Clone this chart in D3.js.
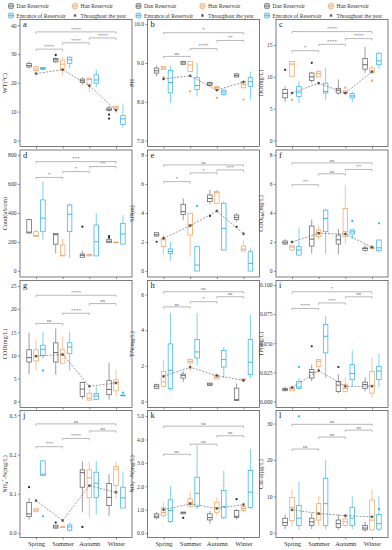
<!DOCTYPE html>
<html>
<head>
<meta charset="utf-8">
<script src="https://cdn.jsdelivr.net/npm/d3@7"></script>
<style>
  body { margin: 0; background: #fff; }
  svg text { font-family: "Liberation Serif", "Times New Roman", serif; }
</style>
</head>
<body>
<div id="chart-wrapper"></div>
<script>
// seasonal water quality box plots, 4 x 3 panels

var seasons = ['Spring', 'Summer', 'Autumn', 'Winter'];
var groups = ['Dan Reservoir', 'Han Reservoir', 'Entrance of Reservoir'];
var group_colors = ['#5b5b5b', '#f0a05a', '#27b2e6'];
var mean_label = 'Throughout the year';
var pairs = [[0, 1], [1, 2], [2, 3], [0, 3]]; // Spring-Summer, Summer-Autumn, Autumn-Winter, Spring-Winter

// rows: Spring Dan, Spring Han, Spring Entrance, Summer Dan ... ; [min, q1, median, q3, max]
var wt_box = [[25.0,25.5,26.0,26.7,27.5],[23.5,24.2,24.8,25.6,25.8],[24.5,24.7,25.0,25.3,25.5],
  [26.9,27.3,28.0,28.5,29.0],[22.4,24.5,26.5,27.9,29.0],[25.0,26.8,28.0,28.9,29.3],
  [19.3,20.1,20.7,21.3,22.0],[16.7,19.3,21.2,21.6,22.0],[18.5,19.9,21.0,22.8,24.7],
  [10.0,10.4,10.8,11.3,12.0],[9.3,10.7,11.3,11.8,12.0],[4.4,5.5,7.5,8.6,12.4]];
var wt_out = [[1,0,29.7],[3,0,9.0],[3,0,7.6]]; // [season, group, value]
var wt_mean = [23.2, 24.6, 19.0, 10.5];
var wt_sig = ['****', '****', '****', '****'];
var wt_sig_y = [31.7, 33.9, 35.6, 37.7];

var ph_box = [[8.66,8.74,8.8,8.87,8.93],[8.83,8.83,8.87,8.91,8.91],[7.97,8.23,8.5,8.81,8.93],
  [8.96,8.96,9.0,9.04,9.06],[8.78,8.78,8.95,9.04,9.04],[8.14,8.32,8.42,8.62,9.0],
  [8.39,8.42,8.46,8.5,8.53],[8.33,8.33,8.37,8.4,8.4],[8.15,8.19,8.25,8.3,8.33],
  [8.62,8.64,8.68,8.72,8.74],[8.36,8.36,8.45,8.53,8.53],[8.06,8.4,8.52,8.62,8.78]];
var ph_out = [[0,1,8.64],[1,1,8.27],[2,1,8.1],[3,1,8.06]];
var ph_mean = [8.59, 8.67, 8.3, 8.51];
var ph_sig = ['ns', '****', '**', '*'];
var ph_sig_y = [9.17, 9.37, 9.58, 9.78];

var do_box = [[6.1,6.7,7.4,8.0,8.5],[10.0,10.0,12.0,12.4,12.5],[5.9,6.9,7.6,8.5,9.3],
  [9.1,9.4,10.0,10.6,10.8],[9.9,10.0,10.5,10.8,11.1],[6.4,7.45,7.7,9.0,11.4],
  [7.2,7.45,7.9,8.2,9.6],[7.35,7.35,7.5,7.8,7.8],[6.0,6.7,7.0,7.35,7.7],
  [10.6,11.2,11.9,12.9,14.7],[10.6,10.6,10.9,11.4,11.8],[11.2,11.9,12.5,13.7,13.95]];
var do_out = [[0,0,11.1],[0,1,6.4],[1,0,12.2],[2,1,8.3],[3,1,9.4]];
var do_mean = [7.45, 9.0, 7.45, 10.8];
var do_sig = ['*', '****', '****', '****'];
var do_sig_y = [14.1, 15.1, 16.0, 17.1];

var cond_box = [[260,262,268,355,360],[237,237,245,271,288],[214,271,364,490,616],
  [122,185,250,258,262],[104,104,108,179,226],[92,271,391,455,467],
  [95,95,108,117,140],[104,104,110,113,113],[104,104,202,317,398],
  [195,195,205,219,219],[195,195,197,200,200],[186,186,255,329,385]];
var cond_out = [[2,0,306],[3,0,241],[3,0,230]];
var cond_mean = null;
var cond_sig = ['*', '*', '**', '***'];
var cond_sig_y = [645, 685, 720, 754];

var sd_box = [[2.41,2.41,2.5,2.64,2.64],[1.1,1.68,2.15,2.26,2.5],[0.7,1.22,1.35,1.52,2.0],
  [3.5,3.9,4.09,4.6,5.0],[0.98,2.48,3.2,3.98,4.0],[0,0,0.41,1.68,1.68],
  [4.6,4.78,5.0,5.24,5.6],[4.67,4.67,5.4,5.47,5.6],[1.4,1.45,2.94,4.67,4.8],
  [3.4,3.56,3.7,3.86,4.0],[1.38,1.38,1.5,1.72,2.1],[0,0,0.53,1.33,1.55]];
var sd_out = [[0,0,2.02],[1,2,4.48],[2,0,3.8],[3,0,3.05]];
var sd_mean = [2.26, 3.12, 4.14, 2.57];
var sd_sig = ['*', '*', '***', 'ns'];
var sd_sig_y = [6.16, 6.76, 6.97, 7.31];

var codmn_box = [[1.8,1.86,1.95,2.07,2.2],[1.4,1.45,1.65,1.74,1.74],[1.1,1.1,1.45,1.68,3.0],
  [1.2,1.72,2.2,3.1,3.55],[2.2,2.37,2.65,2.83,3.1],[1.15,2.71,3.63,4.2,4.3],
  [1.15,1.86,2.15,2.48,2.9],[1.86,2.37,2.71,4.32,5.93],[2.2,2.55,2.7,2.83,2.9],
  [1.35,1.42,1.55,1.6,1.8],[1.55,1.55,1.6,1.65,1.65],[1.3,1.4,1.6,2.14,2.14]];
var codmn_out = [[2,2,3.45],[3,2,3.29]];
var codmn_mean = [2.0, 2.6, 2.55, 1.65];
var codmn_sig = ['**', 'ns', '**', 'ns'];
var codmn_sig_y = [5.95, 6.7, 7.0, 7.45];

var cod_box = [[5.87,8.55,9.5,11.2,14.9],[6.8,8.8,9.9,11.2,13.3],[9.3,10.0,11.3,12.2,15.1],
  [5.8,8.55,10.6,12.7,15.8],[8.3,8.3,10.0,11.2,14.1],[6.6,10.4,11.8,12.7,15.1],
  [0.5,1.1,2.7,4.1,4.3],[0.25,0.3,0.7,1.8,2.6],[0.3,0.4,1.2,1.7,3.2],
  [0.4,1.46,2.6,4.5,8.4],[1.1,2.3,4.2,4.7,6.9],[1.2,1.2,1.3,1.4,1.4]];
var cod_out = [[0,2,6.7],[3,2,1.9]];
var cod_mean = [9.8, 10.2, 3.3, 4.0];
var cod_sig = ['ns', '****', 'ns', '****'];
var cod_sig_y = [16.9, 19.1, 21.2, 23.0];

var tn_box = [[0.7,0.72,0.85,0.94,1.0],[0.8,0.85,1.1,1.69,2.35],[0.6,0.72,1.75,3.23,4.97],
  [1.1,1.31,1.45,1.54,1.7],[1.7,2.16,2.25,2.35,2.4],[2.0,2.44,2.78,3.48,4.97],
  [0.85,0.9,0.97,1.03,1.05],[1.26,1.26,1.35,1.46,1.6],[1.3,1.93,2.35,2.87,3.05],
  [0.05,0.06,0.1,0.75,1.0],[1.2,1.2,1.23,1.26,1.26],[1.3,1.5,2.2,3.48,4.85]];
var tn_out = [];
var tn_mean = [1.41, 1.92, 1.45, 1.18];
var tn_sig = ['ns', '*', 'ns', 'ns'];
var tn_sig_y = [5.31, 5.6, 5.88, 6.16];

var tp_box = [[0.0086,0.0092,0.0102,0.011,0.0126],[0.0092,0.0092,0.011,0.012,0.012],[0.011,0.011,0.0125,0.0172,0.02],
  [0.0172,0.0201,0.025,0.0273,0.0316],[0.025,0.0302,0.0345,0.0359,0.0362],[0.02,0.0417,0.056,0.066,0.0733],
  [0.007,0.0086,0.014,0.0172,0.0235],[0.0086,0.0086,0.0112,0.0144,0.021],[0.0124,0.0187,0.024,0.0316,0.044],
  [0.0086,0.011,0.0145,0.0166,0.0207],[0.0037,0.0072,0.0138,0.0259,0.0378],[0.0124,0.0187,0.0262,0.0302,0.0412]];
var tp_out = [[0,2,0.0296],[1,0,0.0474],[2,0,0.0296]];
var tp_mean = [0.012, 0.0265, 0.013, 0.013];
var tp_sig = ['****', '***', 'ns', '*'];
var tp_sig_y = [0.0799, 0.0846, 0.0899, 0.0942];

var nh4_box = [[0.034,0.042,0.049,0.078,0.09],[0.055,0.055,0.059,0.062,0.062],[0.147,0.147,0.15,0.184,0.184],
  [0.0128,0.0128,0.016,0.0205,0.0205],[0.015,0.015,0.0155,0.016,0.016],[0.005,0.0077,0.016,0.021,0.027],
  [0.053,0.117,0.154,0.161,0.183],[0.038,0.09,0.141,0.161,0.183],[0.048,0.091,0.127,0.155,0.183],
  [0.044,0.07,0.091,0.126,0.15],[0.088,0.121,0.163,0.17,0.183],[0.064,0.064,0.09,0.117,0.157]];
var nh4_out = [[0,0,0.117],[0,2,0.043],[1,0,0.027],[2,0,0.016]];
var nh4_mean = [0.083, 0.032, 0.121, 0.104];
var nh4_sig = ['***', '****', 'ns', 'ns'];
var nh4_sig_y = [0.22, 0.241, 0.26, 0.278];

var no3_box = [[0.58,0.65,0.72,0.82,0.9],[0.65,0.74,0.88,1.08,1.3],[0.42,0.5,0.96,1.42,2.0],
  [0.82,0.82,0.87,0.9,0.9],[1.1,1.13,1.3,1.46,1.78],[1.03,1.13,1.7,2.39,3.75],
  [0.4,0.56,0.66,0.82,0.95],[0.75,0.89,1.08,1.32,1.52],[0.6,0.65,1.13,1.82,2.67],
  [0.58,0.67,0.72,0.96,1.03],[0.9,0.96,1.05,1.13,1.25],[1.03,1.1,1.75,2.68,3.6]];
var no3_out = [[1,0,0.65],[3,0,1.45]];
var no3_mean = [1.0, 1.25, 1.05, 1.22];
var no3_sig = ['ns', 'ns', 'ns', 'ns'];
var no3_sig_y = [3.37, 3.8, 4.16, 4.57];

var chla_box = [[1,2,2.8,4,5],[1.7,3.3,7,9.7,12],[0.8,2,4,7.5,14],
  [1,2,3,4,5.5],[2,3.5,5,8,10],[1,2,8,15,20],
  [0.8,1.5,2.5,3.5,5],[1.5,2,3,3.8,5],[1,2,4,7,10],
  [0.3,0.8,1.3,2,3],[0.5,0.8,3.5,9,12],[0.5,1,2.5,5,10]];
var chla_out = [[0,2,32],[3,2,6.5]];
var chla_mean = [6.3, 5.3, 4.7, 4.4];
var chla_sig = ['ns', 'ns', 'ns', 'ns'];
var chla_sig_y = [23.0, 26.3, 28.2, 29.8];

// y label parts: [text, 'sub'|'sup'|null]
var panels = [
  {letter: 'a', label: [['WT(°C)']], box: wt_box, out: wt_out, mean: wt_mean, sig: wt_sig, sig_y: wt_sig_y, domain: [-2.1, 42], ticks: [0, 10, 20, 30, 40]},
  {letter: 'b', label: [['PH']], box: ph_box, out: ph_out, mean: ph_mean, sig: ph_sig, sig_y: ph_sig_y, domain: [6.85, 10.12], ticks: [7, 8, 9, 10]},
  {letter: 'c', label: [['DO(mg/L)']], box: do_box, out: do_out, mean: do_mean, sig: do_sig, sig_y: do_sig_y, domain: [-0.94, 19], ticks: [0, 5, 10, 15]},
  {letter: 'd', label: [['Cond(uS/cm)']], box: cond_box, out: cond_out, mean: cond_mean, sig: cond_sig, sig_y: cond_sig_y, domain: [-41, 834], ticks: [0, 200, 400, 600, 800]},
  {letter: 'e', label: [['SD(m)']], box: sd_box, out: sd_out, mean: sd_mean, sig: sd_sig, sig_y: sd_sig_y, domain: [-0.41, 8.34], ticks: [0, 2, 4, 6, 8]},
  {letter: 'f', label: [['COD'], ['Mn', 'sub'], ['(mg/L)']], box: codmn_box, out: codmn_out, mean: codmn_mean, sig: codmn_sig, sig_y: codmn_sig_y, domain: [-0.41, 8.34], ticks: [0, 2, 4, 6, 8]},
  {letter: 'g', label: [['COD(mg/L)']], box: cod_box, out: cod_out, mean: cod_mean, sig: cod_sig, sig_y: cod_sig_y, domain: [-1.3, 26.2], ticks: [0, 5, 10, 15, 20, 25]},
  {letter: 'h', label: [['TN(mg/L)']], box: tn_box, out: tn_out, mean: tn_mean, sig: tn_sig, sig_y: tn_sig_y, domain: [-0.34, 6.79], ticks: [0, 2, 4, 6]},
  {letter: 'i', label: [['TP(mg/L)']], box: tp_box, out: tp_out, mean: tp_mean, sig: tp_sig, sig_y: tp_sig_y, domain: [-0.0052, 0.1039], ticks: [0, 0.025, 0.05, 0.075, 0.1], fmt: '.3f'},
  {letter: 'j', label: [['NH'], ['4', 'sub'], ['+', 'sup'], ['-N(mg/L)']], box: nh4_box, out: nh4_out, mean: nh4_mean, sig: nh4_sig, sig_y: nh4_sig_y, domain: [-0.011, 0.312], ticks: [0, 0.1, 0.2, 0.3], fmt: '.1f'},
  {letter: 'k', label: [['NO'], ['3', 'sub'], ['−', 'sup'], ['-N(mg/L)']], box: no3_box, out: no3_out, mean: no3_mean, sig: no3_sig, sig_y: no3_sig_y, domain: [-0.19, 5.24], ticks: [0, 1, 2, 3, 4, 5]},
  {letter: 'l', label: [['Chl-a(μg/L)']], box: chla_box, out: chla_out, mean: chla_mean, sig: chla_sig, sig_y: chla_sig_y, domain: [-1.3, 33.6], ticks: [0, 10, 20, 30]}
];

var total_width = 392, total_height = 550;
var panel_width = 112, panel_height = 127;
var col_left = [20, 147.5, 276];
var row_top = [19.5, 150, 280.5, 410.5];

var svg = d3.select('#chart-wrapper').append('svg')
    .attr('width', total_width)
    .attr('height', total_height);

// legend, repeated above each column
col_left.forEach(function(left) {
    var lg = svg.append('g').attr('transform', 'translate(' + (left - 9) + ',0)');
    var items = [[0, 6, 0], [64, 6, 1], [0, 15.5, 2], [64, 15.5, 3]];
    items.forEach(function(it) {
        var g = lg.append('g').attr('transform', 'translate(' + it[0] + ',' + it[1] + ')');
        if (it[2] < 3) {
            var c = group_colors[it[2]];
            g.append('rect').attr('x', -2.5).attr('y', -2.5).attr('width', 5).attr('height', 5)
                .attr('rx', 1.2).attr('fill', c).attr('fill-opacity', 0.35).attr('stroke', c).attr('stroke-width', 0.6);
            g.append('line').attr('x1', -2.5).attr('x2', 2.5).attr('y1', 0).attr('y2', 0)
                .attr('stroke', c).attr('stroke-width', 0.6);
        } else {
            g.append('path').attr('d', d3.symbol(d3.symbolAsterisk, 7)())
                .attr('stroke', '#333').attr('stroke-width', 0.7).attr('fill', 'none');
        }
        g.append('text').attr('x', 5.5).attr('y', 2)
            .attr('font-size', '5.6px').attr('fill', '#333')
            .text(it[2] < 3 ? groups[it[2]] : mean_label);
    });
});

var draw_panel = function(p, idx) {
    var col = idx % 3, row = Math.floor(idx / 3);
    var left = col_left[col], top = row_top[row];

    var scale_x = d3.scalePoint().domain(seasons).range([0, panel_width]).padding(0.6);
    var step = scale_x.step();
    var scale_y = d3.scaleLinear().domain(p.domain).range([panel_height, 0]);
    var dodge = function(g) { return (g - 1) * step * 0.26; };
    var half = step * 0.085;

    var g = svg.append('g').attr('transform', 'translate(' + left + ',' + top + ')');

    g.append('rect').attr('width', panel_width).attr('height', panel_height)
        .attr('fill', 'none').attr('stroke', '#444').attr('stroke-width', 0.7);

    // axes
    var axis_y = d3.axisLeft(scale_y).tickValues(p.ticks).tickSize(2).tickPadding(1.5);
    if (p.fmt) axis_y.tickFormat(d3.format(p.fmt));
    var ay = g.append('g').call(axis_y);
    var axis_x = d3.axisBottom(scale_x).tickSize(2).tickPadding(2);
    if (row < 3) axis_x.tickFormat('');
    var ax = g.append('g').attr('transform', 'translate(0,' + panel_height + ')').call(axis_x);
    [ay, ax].forEach(function(a) {
        a.select('.domain').remove();
        a.selectAll('line').attr('stroke', '#444').attr('stroke-width', 0.6);
        a.selectAll('text').attr('font-family', '"Liberation Serif", serif').attr('fill', '#333');
    });
    ay.selectAll('text').attr('font-size', '5.6px');
    ax.selectAll('text').attr('font-size', '6.4px');

    // y label
    var lab = g.append('text')
        .attr('transform', 'translate(' + (-13.5) + ',' + (panel_height / 2) + ') rotate(-90)')
        .attr('text-anchor', 'middle').attr('font-size', '6.2px').attr('fill', '#333');
    p.label.forEach(function(part) {
        var ts = lab.append('tspan').text(part[0]);
        if (part[1] === 'sub') ts.attr('font-size', '4.4px').attr('dy', 1.2);
        else if (part[1] === 'sup') ts.attr('font-size', '4.4px').attr('dy', -3.4);
        else if (part.prev) ts.attr('dy', 0);
    });
    // reset baseline after sub/sup parts
    var shift = 0;
    lab.selectAll('tspan').each(function(d, i) {
        var part = p.label[i];
        var target = part[1] === 'sub' ? 1.2 : (part[1] === 'sup' ? -2.2 : 0);
        d3.select(this).attr('dy', target - shift);
        shift = target;
    });

    g.append('text').attr('x', 3).attr('y', 7.5)
        .attr('font-size', '8.5px').attr('fill', '#222').text(p.letter);

    // significance brackets
    pairs.forEach(function(pr, i) {
        var x1 = scale_x(seasons[pr[0]]), x2 = scale_x(seasons[pr[1]]);
        var y = scale_y(p.sig_y[i]);
        g.append('path')
            .attr('d', 'M' + x1 + ',' + (y + 1.8) + 'V' + y + 'H' + x2 + 'V' + (y + 1.8))
            .attr('fill', 'none').attr('stroke', '#8a8a8a').attr('stroke-width', 0.6);
        g.append('text').attr('x', (x1 + x2) / 2).attr('y', y - 1.3)
            .attr('text-anchor', 'middle').attr('font-size', '5px').attr('fill', '#555')
            .text(p.sig[i]);
    });

    // boxes
    var box_data = p.box.map(function(b, i) {
        return {season: seasons[Math.floor(i / 3)], group: i % 3, s: b};
    });
    var bx = g.selectAll('.box').data(box_data).enter().append('g')
        .attr('class', 'box')
        .attr('transform', function(d) { return 'translate(' + (scale_x(d.season) + dodge(d.group)) + ',0)'; });
    bx.append('line')
        .attr('y1', function(d) { return scale_y(d.s[0]); })
        .attr('y2', function(d) { return scale_y(d.s[4]); })
        .attr('stroke', function(d) { return group_colors[d.group]; }).attr('stroke-width', 0.6);
    bx.append('rect')
        .attr('x', -half).attr('width', half * 2)
        .attr('y', function(d) { return scale_y(d.s[3]); })
        .attr('height', function(d) { return Math.max(0.6, scale_y(d.s[1]) - scale_y(d.s[3])); })
        .attr('fill', '#fff')
        .attr('stroke', function(d) { return group_colors[d.group]; }).attr('stroke-width', 0.7);
    bx.append('line')
        .attr('x1', -half).attr('x2', half)
        .attr('y1', function(d) { return scale_y(d.s[2]); })
        .attr('y2', function(d) { return scale_y(d.s[2]); })
        .attr('stroke', function(d) { return group_colors[d.group]; }).attr('stroke-width', 0.9);

    // outliers
    g.selectAll('.outlier').data(p.out).enter().append('circle')
        .attr('class', 'outlier')
        .attr('cx', function(d) { return scale_x(seasons[d[0]]) + dodge(d[1]); })
        .attr('cy', function(d) { return scale_y(d[2]); })
        .attr('r', 1.1)
        .attr('fill', function(d) { return d[1] === 0 ? '#222' : group_colors[d[1]]; });

    // seasonal mean throughout the year
    if (p.mean) {
        var line = d3.line()
            .x(function(d, i) { return scale_x(seasons[i]); })
            .y(function(d) { return scale_y(d); });
        g.append('path').datum(p.mean).attr('d', line)
            .attr('fill', 'none').attr('stroke', '#555').attr('stroke-width', 0.6)
            .attr('stroke-dasharray', '2,1.4');
        g.selectAll('.mean').data(p.mean).enter().append('path')
            .attr('class', 'mean')
            .attr('transform', function(d, i) { return 'translate(' + scale_x(seasons[i]) + ',' + scale_y(d) + ')'; })
            .attr('d', d3.symbol(d3.symbolAsterisk, 6)())
            .attr('stroke', '#333').attr('stroke-width', 0.7).attr('fill', 'none');
    }
};

panels.forEach(draw_panel);
</script>
</body>
</html>
